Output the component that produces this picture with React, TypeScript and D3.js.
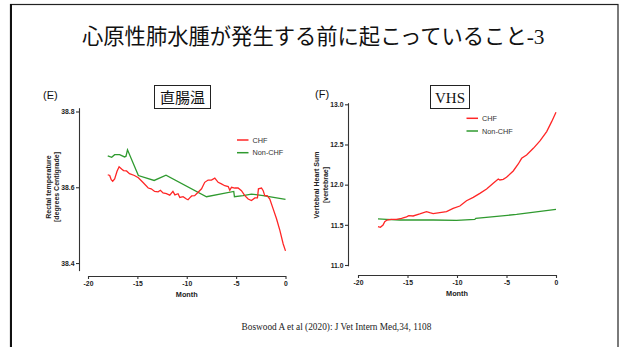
import { useEffect, useRef } from "react";
import * as d3 from "d3";

// (E) 直腸温 — months before CHF onset
const rectalChfMonth = [-18.0, -17.8, -17.65, -17.5, -17.3, -17.06, -16.85, -16.6, -16.4, -16.1, -15.8, -15.3, -14.9, -14.4, -13.9, -13.6, -13.25, -12.9, -12.67, -12.4, -12.06, -11.72, -11.4, -11.2, -10.88, -10.7, -10.37, -10.03, -9.87, -9.7, -9.5, -9.2, -8.85, -8.5, -8.18, -7.84, -7.5, -7.16, -6.82, -6.49, -6.15, -5.8, -5.64, -5.47, -5.14, -4.8, -4.46, -4.12, -3.78, -3.45, -3.1, -2.84, -2.74, -2.43, -2.26, -2.1, -1.86, -1.59, -1.25, -0.91, -0.57, -0.24, 0];
const rectalChf = [38.633, 38.631, 38.62, 38.616, 38.622, 38.642, 38.654, 38.648, 38.644, 38.643, 38.636, 38.631, 38.625, 38.612, 38.598, 38.596, 38.589, 38.588, 38.592, 38.585, 38.583, 38.579, 38.589, 38.58, 38.583, 38.573, 38.575, 38.569, 38.567, 38.572, 38.577, 38.578, 38.587, 38.596, 38.613, 38.619, 38.619, 38.624, 38.613, 38.609, 38.604, 38.602, 38.592, 38.6, 38.598, 38.598, 38.591, 38.578, 38.569, 38.565, 38.572, 38.572, 38.596, 38.598, 38.591, 38.578, 38.578, 38.569, 38.543, 38.517, 38.486, 38.451, 38.432];
const rectalNonMonth = [-18.0, -17.6, -17.3, -16.8, -16.3, -16.15, -16.0, -14.9, -13.3, -12.1, -8.0, -5.24, -5.17, -4.3, -3.45, -2.26, 0];
const rectalNon = [38.683, 38.679, 38.686, 38.686, 38.68, 38.682, 38.699, 38.631, 38.618, 38.632, 38.575, 38.589, 38.575, 38.578, 38.582, 38.578, 38.568];

// (F) VHS
const vhsChfMonth = [-17.98, -17.74, -17.47, -17.3, -17.07, -16.63, -16.12, -15.6, -15.1, -14.87, -14.43, -13.76, -13.08, -12.75, -12.41, -11.74, -11.06, -10.39, -9.71, -9.04, -8.36, -7.69, -7.01, -6.34, -5.83, -5.67, -5.33, -5.0, -4.32, -3.81, -3.47, -2.97, -2.29, -1.62, -0.94, -0.44, 0];
const vhsChf = [11.477, 11.469, 11.498, 11.539, 11.56, 11.568, 11.568, 11.581, 11.6, 11.614, 11.61, 11.635, 11.664, 11.651, 11.64, 11.651, 11.664, 11.705, 11.734, 11.8, 11.842, 11.892, 11.946, 12.017, 12.07, 12.058, 12.066, 12.091, 12.17, 12.257, 12.328, 12.369, 12.452, 12.544, 12.66, 12.784, 12.9];
const vhsNonMonth = [-17.98, -17.13, -15.78, -12.4, -10.05, -8.2, -8.1, -3.98, 0];
const vhsNon = [11.573, 11.568, 11.56, 11.56, 11.556, 11.568, 11.58, 11.63, 11.693];

const monthTicks = [-20, -15, -10, -5, 0];
const rectalTicks = [38.4, 38.6, 38.8];
const vhsTicks = [11.0, 11.5, 12.0, 12.5, 13.0];
const legendLabels = ["CHF", "Non-CHF"];

const RED = "#ff2626";
const GREEN = "#2f9a2f";
const SANS = "Liberation Sans, Arial, sans-serif";
const SERIF = "Liberation Serif, Times New Roman, serif";
const CJK = "Noto Sans CJK JP, sans-serif";

type PanelProps = {
  x0: number;
  x1: number;
  axisX: number;
  axisY: number;
  yDomain: [number, number];
  yRange: [number, number];
  yTicks: number[];
  chfX: number[];
  chfY: number[];
  nonX: number[];
  nonY: number[];
  ylab1: string;
  ylab2: string;
  ylabX: number;
  ylabY: number;
  legX: number;
  legY: number;
};

const Panel = (p: PanelProps) => {
  const xRef = useRef<SVGGElement>(null);
  const yRef = useRef<SVGGElement>(null);

  const xScale = d3.scaleLinear().domain([-20, 0]).range([p.x0, p.x1]);
  const yScale = d3.scaleLinear().domain(p.yDomain).range(p.yRange);

  const line = d3
    .line<[number, number]>()
    .x((d) => xScale(d[0]))
    .y((d) => yScale(d[1]));

  const chf = p.chfX.map((m, i) => [m, p.chfY[i]] as [number, number]);
  const non = p.nonX.map((m, i) => [m, p.nonY[i]] as [number, number]);

  useEffect(() => {
    const xAxis = d3
      .axisBottom(xScale)
      .tickValues(monthTicks)
      .tickSize(3)
      .tickSizeOuter(0)
      .tickPadding(2)
      .tickFormat((d) => String(d));
    const yAxis = d3
      .axisLeft(yScale)
      .tickValues(p.yTicks)
      .tickSize(3)
      .tickSizeOuter(0)
      .tickPadding(1.5)
      .tickFormat((d) => d3.format(".1f")(d as number));
    for (const [ref, axis] of [
      [xRef, xAxis],
      [yRef, yAxis],
    ] as const) {
      const g = d3.select(ref.current!);
      g.call(axis as any);
      g.selectAll("path, line").attr("stroke", "#333").attr("stroke-width", 1.1);
      g.selectAll("text")
        .attr("font-family", SANS)
        .attr("font-weight", "bold")
        .attr("font-size", 6.8)
        .attr("fill", "#222");
    }
  });

  return (
    <g>
      <g ref={xRef} transform={`translate(0,${p.axisY})`} />
      <g ref={yRef} transform={`translate(${p.axisX},0)`} />
      <text
        x={(p.x0 + p.x1) / 2}
        y={p.axisY + 21}
        textAnchor="middle"
        fontFamily={SANS}
        fontWeight="bold"
        fontSize={7.3}
        fill="#222"
      >
        Month
      </text>
      <text
        transform={`translate(${p.ylabX},${p.ylabY}) rotate(-90)`}
        textAnchor="middle"
        fontFamily={SANS}
        fontWeight="bold"
        fontSize={7}
        fill="#222"
      >
        <tspan x={0} dy={0}>
          {p.ylab1}
        </tspan>
        <tspan x={0} dy={8.7}>
          {p.ylab2}
        </tspan>
      </text>
      <path d={line(non) ?? ""} fill="none" stroke={GREEN} strokeWidth={1.3} />
      <path d={line(chf) ?? ""} fill="none" stroke={RED} strokeWidth={1.3} />
      {legendLabels.map((lab, i) => (
        <g key={lab} transform={`translate(${p.legX},${p.legY + i * 12.7})`}>
          <line x1={0} x2={11.5} y1={0} y2={0} stroke={i === 0 ? RED : GREEN} strokeWidth={1.5} />
          <text x={15.5} y={2.6} fontFamily={SANS} fontSize={7.3} fill="#333">
            {lab}
          </text>
        </g>
      ))}
    </g>
  );
};

export default function App() {
  return (
    <div style={{ position: "absolute", left: 0, top: 0 }}>
      <svg width={625} height={347} viewBox="0 0 625 347" style={{ display: "block", background: "#fff" }}>
        <rect x={10.5} y={4.5} width={607.5} height={360} fill="none" stroke="#222" strokeWidth={1.2} />
        <line x1={11} x2={11} y1={4} y2={347} stroke="#111" strokeWidth={2} />

        <text x={82} y={44} fontFamily={CJK} fontSize={21.3} fill="#111">
          心原性肺水腫が発生する前に起こっていること
          <tspan fontFamily={SERIF}>-3</tspan>
        </text>

        <text x={43} y={99} fontFamily={SANS} fontSize={11} fill="#111">
          (E)
        </text>
        <rect x={154.5} y={85.5} width={56} height={23} fill="#fff" stroke="#222" strokeWidth={1} />
        <text x={182.5} y={102.5} textAnchor="middle" fontFamily={CJK} fontSize={15} fill="#111">
          直腸温
        </text>

        <text x={315} y={98} fontFamily={SANS} fontSize={11} fill="#111">
          (F)
        </text>
        <rect x={430.5} y={85.5} width={39} height={23} fill="#fff" stroke="#222" strokeWidth={1} />
        <text x={450} y={102.5} textAnchor="middle" fontFamily={SERIF} fontSize={15} fill="#111">
          VHS
        </text>

        <Panel
          x0={88}
          x1={285.5}
          axisX={79}
          axisY={276}
          yDomain={[38.38, 38.81]}
          yRange={[270.6, 107.7]}
          yTicks={rectalTicks}
          chfX={rectalChfMonth}
          chfY={rectalChf}
          nonX={rectalNonMonth}
          nonY={rectalNon}
          ylab1="Rectal temperature"
          ylab2="[degrees Centigrade]"
          ylabX={50.5}
          ylabY={187}
          legX={237}
          legY={140}
        />
        <Panel
          x0={358}
          x1={556}
          axisX={348}
          axisY={275}
          yDomain={[10.99, 13.02]}
          yRange={[265.8, 102.7]}
          yTicks={vhsTicks}
          chfX={vhsChfMonth}
          chfY={vhsChf}
          nonX={vhsNonMonth}
          nonY={vhsNon}
          ylab1="Vertebral Heart Sum"
          ylab2="[vertebrae]"
          ylabX={319}
          ylabY={185}
          legX={466.5}
          legY={118.3}
        />

        <text x={336.5} y={330} textAnchor="middle" fontFamily={SERIF} fontSize={9.3} fill="#222">
          Boswood A et al (2020): J Vet Intern Med,34, 1108
        </text>
      </svg>
    </div>
  );
}
